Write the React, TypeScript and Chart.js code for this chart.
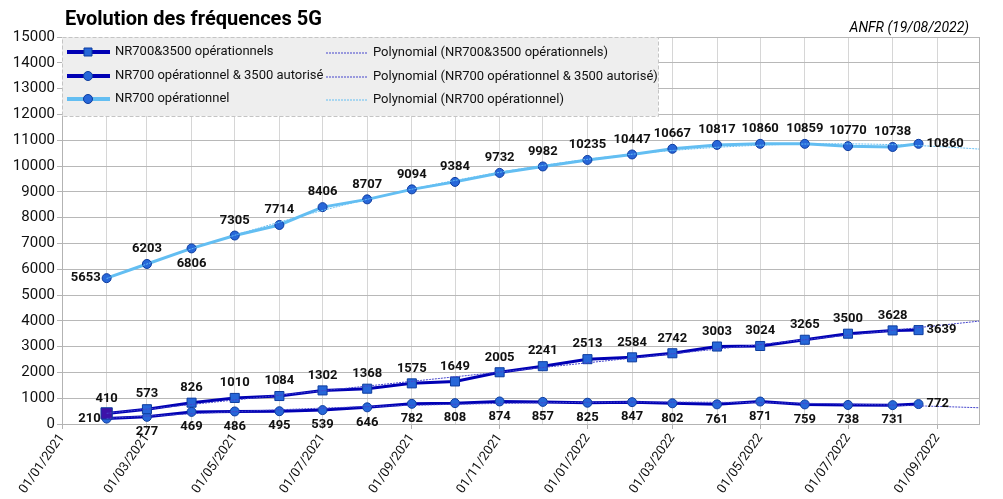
import { useEffect, useRef } from "react"
import { Chart, registerables } from "chart.js"

Chart.register(...registerables)

// monthly readings (last one is the ANFR release of 19/08/2022)
const dates = [
  "2021-02-01", "2021-03-01", "2021-04-01", "2021-05-01", "2021-06-01",
  "2021-07-01", "2021-08-01", "2021-09-01", "2021-10-01", "2021-11-01",
  "2021-12-01", "2022-01-01", "2022-02-01", "2022-03-01", "2022-04-01",
  "2022-05-01", "2022-06-01", "2022-07-01", "2022-08-01", "2022-08-19",
]
const nr700And3500 = [410, 573, 826, 1010, 1084, 1302, 1368, 1575, 1649, 2005, 2241, 2513, 2584, 2742, 3003, 3024, 3265, 3500, 3628, 3639]
const nr700Op3500Aut = [210, 277, 469, 486, 495, 539, 646, 782, 808, 874, 857, 825, 847, 802, 761, 871, 759, 738, 731, 772]
const nr700Op = [5653, 6203, 6806, 7305, 7714, 8406, 8707, 9094, 9384, 9732, 9982, 10235, 10447, 10667, 10817, 10860, 10859, 10770, 10738, 10860]

const seriesNames = ["NR700&3500 opérationnels", "NR700 opérationnel & 3500 autorisé", "NR700 opérationnel"]
const xTickLabels = ["01/01/2021", "01/03/2021", "01/05/2021", "01/07/2021", "01/09/2021", "01/11/2021", "01/01/2022", "01/03/2022", "01/05/2022", "01/07/2022", "01/09/2022"]
const axisStart = "2021-01-01"
const axisEnd = "2022-09-30"
const yMax = 15000
const trendDegree = 2

const DARK = "#0000b4"
const LIGHT = "#63bef2"
const TREND_DARK = "#4444cc"
const MARKER = "#2767d9"
const MARKER_EDGE = "#0d3c9e"
const FONT = "Roboto"

const toDays = (iso: string) => {
  const [y, m, d] = iso.split("-").map(Number)
  return (Date.UTC(y, m - 1, d) - Date.UTC(2021, 0, 1)) / 86400000
}
const fmt = (days: number) => {
  const d = new Date(Date.UTC(2021, 0, 1) + days * 86400000)
  const p = (n: number) => String(n).padStart(2, "0")
  return `${p(d.getUTCDate())}/${p(d.getUTCMonth() + 1)}/${d.getUTCFullYear()}`
}

const xMin = toDays(axisStart)
const xMax = toDays(axisEnd)
const xs = dates.map(toDays)

// month starts for the vertical grid
const monthTicks: number[] = []
for (let i = 0; ; i++) {
  const v = toDays(`${2021 + Math.floor(i / 12)}-${String((i % 12) + 1).padStart(2, "0")}-01`)
  if (v > xMax) break
  monthTicks.push(v)
}

// least squares polynomial trend
function polyFit(x: number[], y: number[], deg: number) {
  const n = deg + 1
  const u = x.map((v) => v / xMax)
  const A = Array.from({ length: n }, () => new Array(n + 1).fill(0))
  for (let r = 0; r < n; r++) {
    for (let c = 0; c < n; c++) A[r][c] = u.reduce((s, v) => s + Math.pow(v, r + c), 0)
    A[r][n] = u.reduce((s, v, k) => s + y[k] * Math.pow(v, r), 0)
  }
  for (let i = 0; i < n; i++) {
    let p = i
    for (let r = i + 1; r < n; r++) if (Math.abs(A[r][i]) > Math.abs(A[p][i])) p = r
    ;[A[i], A[p]] = [A[p], A[i]]
    for (let r = 0; r < n; r++) {
      if (r === i) continue
      const f = A[r][i] / A[i][i]
      for (let c = i; c <= n; c++) A[r][c] -= f * A[i][c]
    }
  }
  const coef = A.map((row, i) => row[n] / row[i])
  return (v: number) => coef.reduce((s, c, i) => s + c * Math.pow(v / xMax, i), 0)
}

const trend = (y: number[], deg: number) => {
  const f = polyFit(xs, y, deg)
  const pts = []
  for (let i = 0; i <= 100; i++) {
    const x = xs[0] + ((xMax - xs[0]) * i) / 100
    pts.push({ x, y: f(x) })
  }
  return pts
}

const placement = (n: number, first: string, mid: string, last: string, extra: Record<number, string> = {}) =>
  Array.from({ length: n }, (_, i) => extra[i] ?? (i === 0 ? first : i === n - 1 ? last : mid))

const pointLabels = {
  id: "pointLabels",
  afterDatasetsDraw(chart: any) {
    const ctx = chart.ctx
    ctx.save()
    ctx.font = `bold 13px ${FONT}`
    ctx.fillStyle = "#111"
    chart.data.datasets.forEach((ds: any, i: number) => {
      if (!ds.labelPos) return
      chart.getDatasetMeta(i).data.forEach((pt: any, j: number) => {
        const text = String(ds.data[j].y)
        const pos = ds.labelPos[j]
        let x = pt.x
        let y = pt.y
        ctx.textBaseline = "middle"
        ctx.textAlign = "center"
        if (pos === "above") y -= 15
        else if (pos === "below") y += 15
        else if (pos === "left") { ctx.textAlign = "right"; x -= 6 }
        else { ctx.textAlign = "left"; x += 8 }
        ctx.fillText(text, x, y)
      })
    })
    ctx.restore()
  },
}

const frame = {
  id: "frame",
  beforeDatasetsDraw(chart: any) {
    const { ctx, chartArea: a } = chart
    ctx.save()
    // right border of plot
    ctx.strokeStyle = "#b3b3b3"
    ctx.lineWidth = 1
    ctx.beginPath()
    ctx.moveTo(a.right + 0.5, a.top)
    ctx.lineTo(a.right + 0.5, a.bottom)
    ctx.stroke()

    // legend box
    const lx = a.left, ly = a.top, lw = 596, lh = 79
    ctx.fillStyle = "#eeeeee"
    ctx.fillRect(lx, ly, lw, lh)
    ctx.setLineDash([4, 2])
    ctx.strokeStyle = "#c4c4c4"
    ctx.strokeRect(lx + 0.5, ly + 0.5, lw, lh)
    ctx.setLineDash([])

    const rows = [15, 39, 62]
    const colors = [DARK, DARK, LIGHT]
    ctx.font = `13px ${FONT}`
    ctx.textBaseline = "middle"
    ctx.textAlign = "left"
    seriesNames.forEach((name, i) => {
      const y = ly + rows[i]
      ctx.strokeStyle = colors[i]
      ctx.lineWidth = 4
      ctx.beginPath()
      ctx.moveTo(lx + 5, y)
      ctx.lineTo(lx + 48, y)
      ctx.stroke()
      ctx.fillStyle = MARKER
      ctx.strokeStyle = MARKER_EDGE
      ctx.lineWidth = 1
      ctx.beginPath()
      if (i === 0) ctx.rect(lx + 22, y - 4, 8, 8)
      else ctx.arc(lx + 26, y, 4.5, 0, Math.PI * 2)
      ctx.fill()
      ctx.stroke()
      ctx.fillStyle = "#111"
      ctx.fillText(name, lx + 53, y)

      ctx.strokeStyle = i === 2 ? LIGHT : TREND_DARK
      ctx.lineWidth = 1
      ctx.setLineDash([2, 1])
      ctx.beginPath()
      ctx.moveTo(lx + 264, y + 1)
      ctx.lineTo(lx + 306, y + 1)
      ctx.stroke()
      ctx.setLineDash([])
      ctx.fillStyle = "#111"
      ctx.fillText(`Polynomial (${name})`, lx + 311, y + 1)
    })
    ctx.restore()
  },
  afterDraw(chart: any) {
    const ctx = chart.ctx
    ctx.save()
    ctx.fillStyle = "#000"
    ctx.textBaseline = "middle"
    ctx.font = `bold 20px ${FONT}`
    ctx.textAlign = "left"
    ctx.fillText("Evolution des fréquences 5G", 65, 20)
    ctx.font = `italic 14px ${FONT}`
    ctx.textAlign = "right"
    ctx.fillText("ANFR (19/08/2022)", 969, 28)
    ctx.restore()
  },
}

const mainLine = (label: string, values: number[], color: string, style: string, labelPos: string[]) => ({
  label,
  data: values.map((y, i) => ({ x: xs[i], y })),
  borderColor: color,
  borderWidth: 3,
  tension: 0,
  pointStyle: style,
  pointRadius: (c: any) => (style === "rect" ? (c.dataIndex === 0 ? 8 : 6.4) : 4.5),
  pointBackgroundColor: (c: any) => (style === "rect" && c.dataIndex === 0 ? "#3d12a8" : MARKER),
  pointBorderColor: MARKER_EDGE,
  pointBorderWidth: 1,
  labelPos,
})

const trendLine = (values: number[], color: string) => ({
  label: "trend",
  data: trend(values, trendDegree),
  borderColor: color,
  borderWidth: 1,
  borderDash: [2, 1],
  pointRadius: 0,
  tension: 0,
  labelPos: null,
})

export default function App() {
  const chartRef = useRef<HTMLCanvasElement>(null)
  const chartInstance = useRef<Chart | null>(null)

  useEffect(() => {
    document.body.style.margin = "0"
    if (!chartRef.current) return
    const ctx = chartRef.current.getContext("2d")
    if (!ctx) return
    if (chartInstance.current) chartInstance.current.destroy()

    const n = dates.length
    chartInstance.current = new Chart(ctx, {
      type: "line",
      data: {
        datasets: [
          trendLine(nr700And3500, TREND_DARK),
          trendLine(nr700Op3500Aut, TREND_DARK),
          trendLine(nr700Op, LIGHT),
          mainLine(seriesNames[0], nr700And3500, DARK, "rect", placement(n, "above", "above", "right")),
          mainLine(seriesNames[1], nr700Op3500Aut, DARK, "circle", placement(n, "left", "below", "right")),
          mainLine(seriesNames[2], nr700Op, LIGHT, "circle", placement(n, "left", "above", "right", { 2: "below" })),
        ] as any,
      },
      options: {
        animation: false,
        responsive: true,
        maintainAspectRatio: false,
        layout: { padding: { top: 37, right: 24, left: 0, bottom: 0 } },
        font: { family: FONT },
        scales: {
          x: {
            type: "linear",
            min: xMin,
            max: xMax,
            afterBuildTicks: (scale: any) => {
              scale.ticks = monthTicks.map((value) => ({ value }))
            },
            afterFit: (scale: any) => {
              scale.height = 75
            },
            ticks: {
              autoSkip: false,
              maxRotation: 55,
              minRotation: 55,
              padding: 2,
              color: "#111",
              font: { family: FONT, size: 13 },
              callback: (value: any) => {
                const s = fmt(Number(value))
                return xTickLabels.includes(s) ? s : ""
              },
            },
            grid: {
              color: "#d6d6d6",
              tickLength: 5,
              tickColor: (c: any) => (xTickLabels.includes(fmt(c.tick.value)) ? "#b3b3b3" : "rgba(0,0,0,0)"),
            },
            border: { color: "#b3b3b3" },
          },
          y: {
            min: 0,
            max: yMax,
            afterFit: (scale: any) => {
              scale.width = 62
            },
            ticks: {
              stepSize: 500,
              padding: 2,
              color: "#111",
              font: { family: FONT, size: 15 },
              callback: (value: any) => (Number(value) % 1000 === 0 ? String(value) : ""),
            },
            grid: {
              color: (c: any) => (c.tick.value % 1000 === 0 ? "#b8b8b8" : "#dcdcdc"),
              tickLength: 5,
              tickColor: (c: any) => (c.tick.value % 1000 === 0 ? "#b3b3b3" : "rgba(0,0,0,0)"),
            },
            border: { color: "#b3b3b3" },
          },
        },
        plugins: {
          legend: { display: false },
          tooltip: { enabled: false },
        },
      } as any,
      plugins: [frame, pointLabels],
    })

    return () => {
      if (chartInstance.current) {
        chartInstance.current.destroy()
        chartInstance.current = null
      }
    }
  }, [])

  return (
    <div style={{ width: "1003px", height: "499px" }}>
      <canvas ref={chartRef}></canvas>
    </div>
  )
}
